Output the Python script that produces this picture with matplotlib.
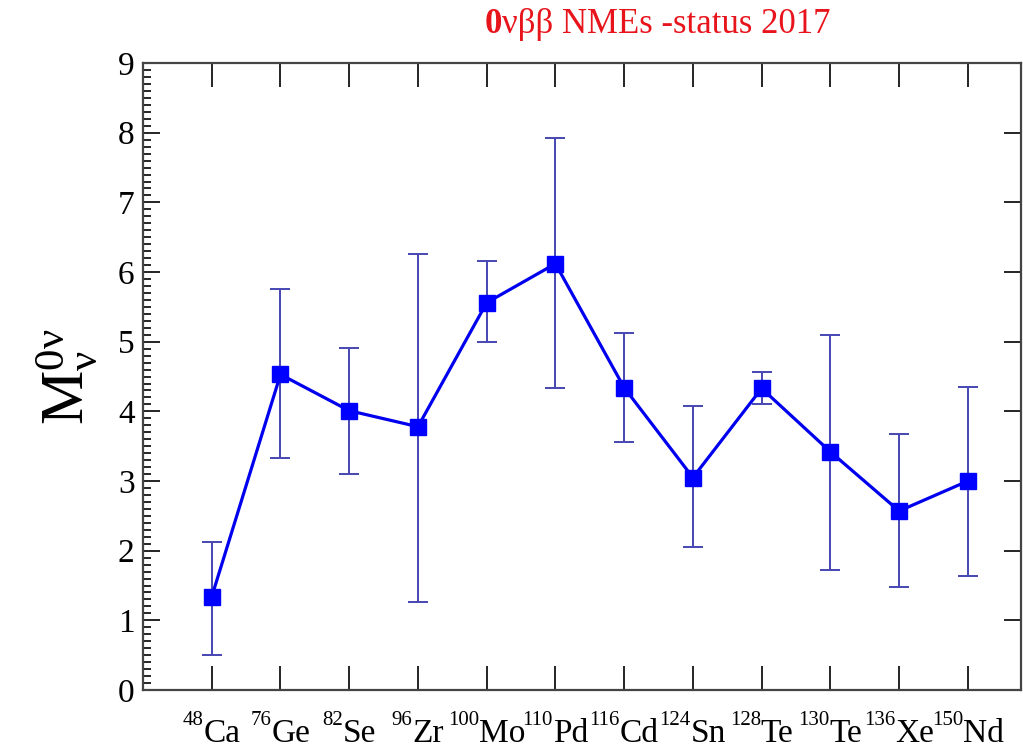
import numpy as np
import matplotlib
matplotlib.use('Agg')
import matplotlib.pyplot as plt
from matplotlib.ticker import MultipleLocator

plt.rcParams['font.family'] = ['Liberation Serif', 'DejaVu Serif']
plt.rcParams['mathtext.fontset'] = 'custom'
plt.rcParams['mathtext.rm'] = 'Liberation Serif'
plt.rcParams['mathtext.it'] = 'Liberation Serif:italic'
plt.rcParams['mathtext.bf'] = 'Liberation Serif:bold'

# nuclei and their 0vbb nuclear matrix elements (central value, lower, upper)
mass_numbers = ['48', '76', '82', '96', '100', '110', '116', '124', '128', '130', '136', '150']
elements = ['Ca', 'Ge', 'Se', 'Zr', 'Mo', 'Pd', 'Cd', 'Sn', 'Te', 'Te', 'Xe', 'Nd']
nme = [1.34, 4.53, 4.01, 3.78, 5.56, 6.12, 4.34, 3.05, 4.33, 3.42, 2.57, 3.00]
nme_low = [0.50, 3.33, 3.10, 1.27, 4.99, 4.34, 3.56, 2.05, 4.10, 1.73, 1.48, 1.64]
nme_high = [2.13, 5.76, 4.91, 6.26, 6.16, 7.92, 5.13, 4.08, 4.56, 5.09, 3.67, 4.35]

x = np.arange(1, len(nme) + 1)
nme = np.array(nme)
yerr = [nme - np.array(nme_low), np.array(nme_high) - nme]

fig = plt.figure(figsize=(10.23, 7.51), dpi=100)
ax = fig.add_axes([0.1398, 0.0812, 0.8587, 0.8348])

ax.errorbar(x, nme, yerr=yerr, fmt='none', ecolor='#4646b4', elinewidth=1.4,
            capsize=7, capthick=1.4, zorder=2)
ax.plot(x, nme, color='#0000ee', lw=2.3, marker='s', markersize=11.5,
        markerfacecolor='#0000ff', markeredgecolor='#0000ff', zorder=3)

ax.set_xlim(0, 12.78)
ax.set_ylim(0, 9)
ax.set_xticks(x)
ax.set_xticklabels([])
ax.yaxis.set_major_locator(MultipleLocator(1))
ax.yaxis.set_minor_locator(MultipleLocator(0.1))
ax.tick_params(axis='y', which='major', direction='in', length=12, width=1.2,
               labelsize=24, left=True, right=True, pad=6)
ax.tick_params(axis='y', which='minor', direction='in', length=6, width=1.2,
               left=True, right=False)
ax.tick_params(axis='x', which='major', direction='in', length=17, width=1.2,
               top=True, bottom=True)
ax.tick_params(axis='x', which='minor', bottom=False, top=False)
for s in ax.spines.values():
    s.set_linewidth(1.6)
    s.set_color('#444444')

# x tick labels: small mass number superscript + element symbol, centred on tick
renderer = fig.canvas.get_renderer()
for xi, m, e in zip(x, mass_numbers, elements):
    ts = ax.annotate(m, xy=(xi, 0), xycoords=('data', 'axes fraction'),
                     xytext=(0, -35), textcoords='offset pixels',
                     fontsize=15, ha='left', va='baseline')
    te = ax.annotate(e, xy=(xi, 0), xycoords=('data', 'axes fraction'),
                     xytext=(0, -52), textcoords='offset pixels',
                     fontsize=24, ha='left', va='baseline')
    ws = ts.get_window_extent(renderer).width
    we = te.get_window_extent(renderer).width
    start = -(ws + we) / 2
    ts.xyann = (start, -35)
    te.xyann = (start + ws, -52)

ax.set_ylabel(r'$\mathrm{M}_{\mathrm{\nu}}^{\mathrm{0\nu}}$', fontsize=44)
ax.yaxis.set_label_coords(-0.05, 0.5)

# title: bold "0" followed by regular text, red
t0 = fig.text(0.474, 0.956, '0', color='#e8141c', fontsize=25, fontweight='bold',
              ha='left', va='baseline')
ax.annotate('\u03bd\u03b2\u03b2 NMEs -status 2017', xy=(1, 0), xycoords=t0,
            color='#e8141c', fontsize=25, ha='left', va='bottom')

fig.savefig('out.png', dpi=100)
